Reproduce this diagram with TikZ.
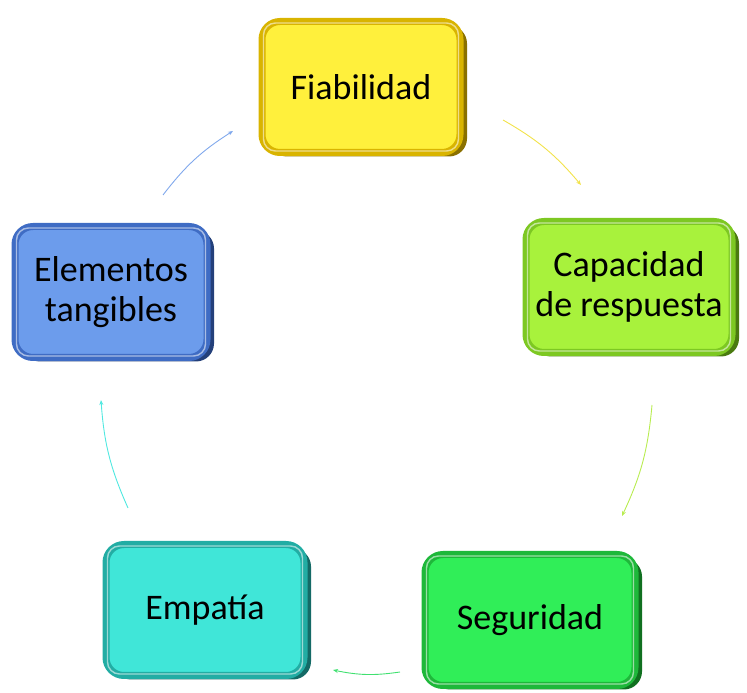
\documentclass[tikz,border=0pt]{standalone}
\usepackage{fontspec}
\setmainfont{Carlito}
\usetikzlibrary{arrows.meta,shadows}

\definecolor{fiaF}{HTML}{FFF03C}
\definecolor{fiaR}{HTML}{D9B400}
\definecolor{fiaD}{HTML}{8A7000}
\definecolor{capF}{HTML}{A8F23C}
\definecolor{capR}{HTML}{7DC822}
\definecolor{capD}{HTML}{4A7A10}
\definecolor{segF}{HTML}{30EE58}
\definecolor{segR}{HTML}{1EB83A}
\definecolor{segD}{HTML}{107020}
\definecolor{empF}{HTML}{40E6D8}
\definecolor{empR}{HTML}{22ADA4}
\definecolor{empD}{HTML}{146A66}
\definecolor{eleF}{HTML}{6C9CEC}
\definecolor{eleR}{HTML}{3F6CC4}
\definecolor{eleD}{HTML}{24407A}
\definecolor{arcA}{HTML}{F2E24A}
\definecolor{arcB}{HTML}{B8EC50}
\definecolor{arcC}{HTML}{40E070}
\definecolor{arcD}{HTML}{50E8E0}
\definecolor{arcE}{HTML}{80A8EC}

\tikzset{
  cbox/.style={rounded corners=18pt, minimum width=198pt, minimum height=131pt,
    align=center, font=\fontsize{36}{40}\selectfont, text=black,
    line width=7pt, draw=#1R, fill=#1F,
    drop shadow={shadow xshift=7pt, shadow yshift=-4pt, fill=#1D, opacity=1}},
  hl/.style={draw=white, opacity=0.55, line width=1.4pt, rounded corners=12pt},
  cyc/.style={line width=0.9pt, -{Stealth[length=5pt,width=4pt]}},
}

\begin{document}
\begin{tikzpicture}[x=1pt,y=1pt]
    \useasboundingbox (0,0) rectangle (747,693);

    % Boxes
    \node[cbox=fia] (fia) at (361,606) {Fiabilidad};
    \node[cbox=cap, minimum width=206pt] (cap) at (629,406) {Capacidad\\de respuesta};
    \node[cbox=seg, minimum width=210pt] (seg) at (530,73) {Seguridad};
    \node[cbox=emp] (emp) at (205,83) {Empatía};
    \node[cbox=ele, minimum width=192pt] (ele) at (111,401) {Elementos\\tangibles};

    % Bevel highlight
    \foreach \n in {fia,cap,seg,emp,ele} {
        \draw[hl] ([shift={(5,-5)}]\n.north west) rectangle ([shift={(-5,5)}]\n.south east);
    }

    % Cycle arcs
    \coordinate (a1s) at (503,573); \coordinate (a1e) at (581,508);
    \coordinate (a2s) at (652,288); \coordinate (a2e) at (622,177);
    \coordinate (a3s) at (400,21);  \coordinate (a3e) at (333,23);
    \coordinate (a4s) at (128,185); \coordinate (a4e) at (101,293);
    \coordinate (a5s) at (163,498); \coordinate (a5e) at (233,562);
    \foreach \s/\e/\c in {a1s/a1e/arcA, a2s/a2e/arcB, a3s/a3e/arcC, a4s/a4e/arcD, a5s/a5e/arcE} {
        \draw[cyc, draw=\c] (\s) to[bend left=10] (\e);
    }
\end{tikzpicture}
\end{document}
